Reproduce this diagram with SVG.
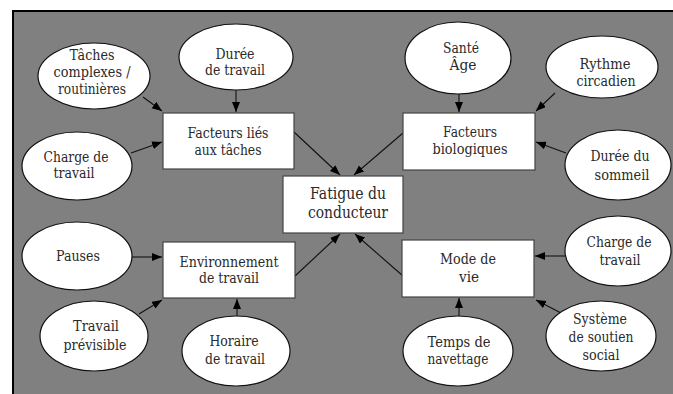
<svg xmlns="http://www.w3.org/2000/svg" width="673" height="394" viewBox="0 0 673 394">
<defs>
<marker id="ah" markerUnits="userSpaceOnUse" markerWidth="11" markerHeight="9" refX="10" refY="4" orient="auto">
<path d="M0,0 L10,4 L0,8 z" fill="#000"/>
</marker>
<style>
.ell{fill:#fff;stroke:#111;stroke-width:1.2}
.box{fill:#fff;stroke:#444;stroke-width:1.2}
.lbl text{font-size:14.5px;fill:#2a2a2a;text-anchor:middle}
.lbl text.big{font-size:16.3px}
.con line{stroke:#111;stroke-width:1.1;marker-end:url(#ah)}
</style>
</defs>
<rect x="0" y="0" width="673" height="394" fill="#fff"/>
<rect x="13" y="11" width="672" height="400" fill="#808080" stroke="#000" stroke-width="2"/>

<g id="connectors" class="con">
<line x1="143" y1="97" x2="162" y2="111"/>
<line x1="236" y1="90" x2="236" y2="112"/>
<line x1="131" y1="153" x2="162" y2="142"/>
<line x1="294" y1="132" x2="340" y2="175"/>
<line x1="403" y1="133" x2="354" y2="175"/>
<line x1="459" y1="94" x2="459" y2="112"/>
<line x1="555" y1="93" x2="536" y2="111"/>
<line x1="566" y1="153" x2="536" y2="142"/>
<line x1="132" y1="257" x2="162" y2="257"/>
<line x1="139" y1="314" x2="162" y2="300"/>
<line x1="237" y1="316" x2="237" y2="299"/>
<line x1="295" y1="276" x2="340" y2="234"/>
<line x1="403" y1="276" x2="355" y2="234"/>
<line x1="565" y1="256" x2="535" y2="256"/>
<line x1="561" y1="313" x2="536" y2="300"/>
<line x1="459" y1="316" x2="459" y2="298"/>
</g>

<g class="lbl" font-family="DejaVu Serif" lengthAdjust="spacingAndGlyphs">
<g id="n-taches-complexes">
<ellipse class="ell" cx="94" cy="76" rx="56" ry="33"/>
<text x="92" y="60" textLength="45" lengthAdjust="spacingAndGlyphs">Tâches</text>
<text x="92" y="77" textLength="77" lengthAdjust="spacingAndGlyphs">complexes /</text>
<text x="92" y="94" textLength="68" lengthAdjust="spacingAndGlyphs">routinières</text>
</g>
<g id="n-duree-travail">
<ellipse class="ell" cx="236" cy="57" rx="57" ry="33"/>
<text x="235" y="59" textLength="39" lengthAdjust="spacingAndGlyphs">Durée</text>
<text x="235" y="75" textLength="60" lengthAdjust="spacingAndGlyphs">de travail</text>
</g>
<g id="n-charge-travail-l">
<ellipse class="ell" cx="77" cy="166" rx="55" ry="34"/>
<text x="76" y="162" textLength="65" lengthAdjust="spacingAndGlyphs">Charge de</text>
<text x="74" y="178" textLength="41" lengthAdjust="spacingAndGlyphs">travail</text>
</g>
<g id="n-facteurs-taches">
<rect class="box" x="163" y="113" width="131" height="56"/>
<text x="228" y="138" textLength="81" lengthAdjust="spacingAndGlyphs">Facteurs liés</text>
<text x="228" y="155" textLength="67" lengthAdjust="spacingAndGlyphs">aux tâches</text>
</g>
<g id="n-fatigue">
<rect class="box" x="283" y="176" width="120" height="57"/>
<text class="big" x="348" y="199" textLength="76" lengthAdjust="spacingAndGlyphs">Fatigue du</text>
<text class="big" x="348" y="218" textLength="80" lengthAdjust="spacingAndGlyphs">conducteur</text>
</g>
<g id="n-sante-age">
<ellipse class="ell" cx="458" cy="58" rx="53" ry="36"/>
<text x="461" y="53" textLength="36" lengthAdjust="spacingAndGlyphs">Santé</text>
<text x="463" y="70" textLength="27" lengthAdjust="spacingAndGlyphs">Âge</text>
</g>
<g id="n-rythme">
<ellipse class="ell" cx="602" cy="67" rx="56" ry="31"/>
<text x="605" y="69" textLength="51" lengthAdjust="spacingAndGlyphs">Rythme</text>
<text x="606" y="86" textLength="59" lengthAdjust="spacingAndGlyphs">circadien</text>
</g>
<g id="n-facteurs-bio">
<rect class="box" x="403" y="113" width="132" height="57"/>
<text x="470" y="137" textLength="54" lengthAdjust="spacingAndGlyphs">Facteurs</text>
<text x="470" y="154" textLength="75" lengthAdjust="spacingAndGlyphs">biologiques</text>
</g>
<g id="n-duree-sommeil">
<ellipse class="ell" cx="618" cy="165" rx="53" ry="35"/>
<text x="620" y="161" textLength="59" lengthAdjust="spacingAndGlyphs">Durée du</text>
<text x="622" y="180" textLength="55" lengthAdjust="spacingAndGlyphs">sommeil</text>
</g>
<g id="n-pauses">
<ellipse class="ell" cx="77" cy="256" rx="55" ry="34"/>
<text x="78" y="261" textLength="44" lengthAdjust="spacingAndGlyphs">Pauses</text>
</g>
<g id="n-environnement">
<rect class="box" x="163" y="242" width="132" height="56"/>
<text x="229" y="267" textLength="99" lengthAdjust="spacingAndGlyphs">Environnement</text>
<text x="229" y="283" textLength="60" lengthAdjust="spacingAndGlyphs">de travail</text>
</g>
<g id="n-travail-previsible">
<ellipse class="ell" cx="94" cy="336" rx="54" ry="35"/>
<text x="96" y="331" textLength="46" lengthAdjust="spacingAndGlyphs">Travail</text>
<text x="95" y="350" textLength="63" lengthAdjust="spacingAndGlyphs">prévisible</text>
</g>
<g id="n-horaire">
<ellipse class="ell" cx="236" cy="351" rx="54" ry="35"/>
<text x="234" y="346" textLength="49" lengthAdjust="spacingAndGlyphs">Horaire</text>
<text x="235" y="364" textLength="60" lengthAdjust="spacingAndGlyphs">de travail</text>
</g>
<g id="n-mode-vie">
<rect class="box" x="402" y="240" width="132" height="57"/>
<text x="468" y="264" textLength="56" lengthAdjust="spacingAndGlyphs">Mode de</text>
<text x="469" y="282" textLength="20" lengthAdjust="spacingAndGlyphs">vie</text>
</g>
<g id="n-charge-travail-r">
<ellipse class="ell" cx="618" cy="251" rx="53" ry="35"/>
<text x="619" y="247" textLength="65" lengthAdjust="spacingAndGlyphs">Charge de</text>
<text x="620" y="265" textLength="41" lengthAdjust="spacingAndGlyphs">travail</text>
</g>
<g id="n-systeme">
<ellipse class="ell" cx="601" cy="336" rx="55" ry="35"/>
<text x="600" y="324" textLength="54" lengthAdjust="spacingAndGlyphs">Système</text>
<text x="601" y="342" textLength="65" lengthAdjust="spacingAndGlyphs">de soutien</text>
<text x="601" y="360" textLength="37" lengthAdjust="spacingAndGlyphs">social</text>
</g>
<g id="n-temps-navettage">
<ellipse class="ell" cx="458" cy="351" rx="55" ry="35"/>
<text x="459" y="347" textLength="63" lengthAdjust="spacingAndGlyphs">Temps de</text>
<text x="458" y="364" textLength="61" lengthAdjust="spacingAndGlyphs">navettage</text>
</g>
</g>
</svg>
